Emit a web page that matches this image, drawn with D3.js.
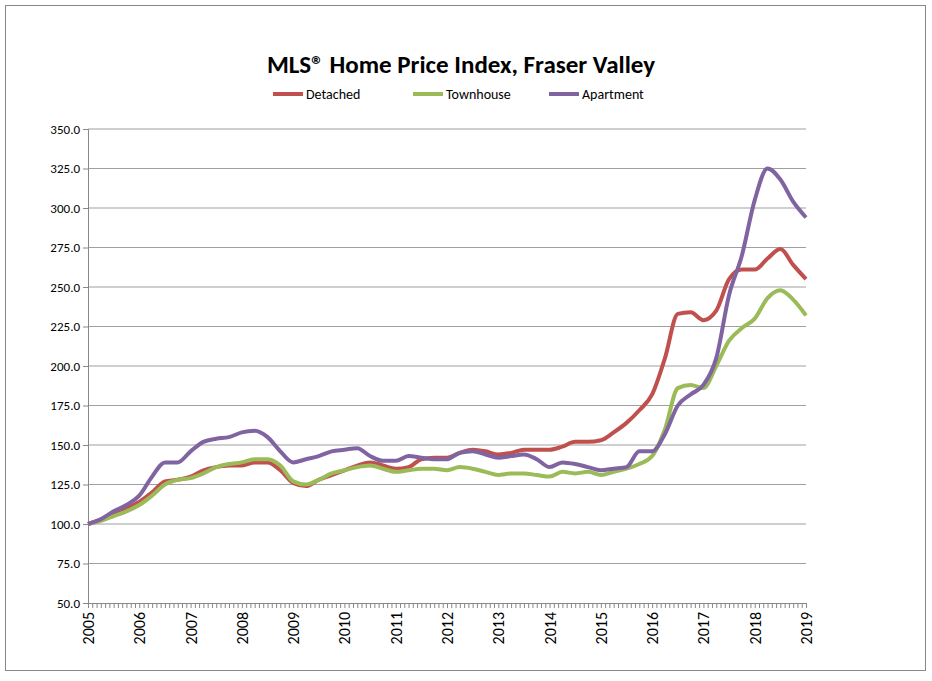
<!DOCTYPE html><html><head><meta charset="utf-8"><script src="https://cdn.jsdelivr.net/npm/d3@7"></script>
<style>body{margin:0;background:#fff;font-family:Calibri,Carlito,"Liberation Sans",sans-serif}</style></head><body><svg id="c" width="932" height="681"></svg>
<script>
const years=[2005,2006,2007,2008,2009,2010,2011,2012,2013,2014,2015,2016,2017,2018,2019];
const yTicks=[50,75,100,125,150,175,200,225,250,275,300,325,350];
const detached=[100,103,107,110,114,120,127,128,130,134,136,137,137,139,139,134,126,124,128,131,134,137,139,137,135,136,141,142,142,145,147,146,144,145,147,147,147,149,152,152,153,158,164,172,182,205,233,234,229,235,255,261,261,268,274,264,255];
const townhouse=[100,102,105,108,112,118,125,128,129,132,136,138,139,141,141,137,127,125,128,132,134,136,137,135,133,134,135,135,134,136,135,133,131,132,132,131,130,133,132,133,131,133,135,138,143,160,186,188,186,200,216,224,230,243,248,242,232];
const apartment=[100,103,108,112,118,130,139,139,146,152,154,155,158,159,155,146,139,141,143,146,147,148,143,140,140,143,142,141,141,145,146,144,142,143,144,141,136,139,138,136,134,135,136,146,146,157,175,182,188,205,245,270,305,325,318,304,294];
const series=[{name:"Detached",color:"#c0504d",v:detached},{name:"Townhouse",color:"#9bbb59",v:townhouse},{name:"Apartment",color:"#8064a2",v:apartment}];
const svg=d3.select("#c");
svg.append("rect").attr("x",5.5).attr("y",5.5).attr("width",920).attr("height",665).attr("fill","none").attr("stroke","#888");
const x=d3.scaleLinear().domain([2005,2019]).range([88,806]);
const y=d3.scaleLinear().domain([50,350]).range([603,129]);
svg.append("g").selectAll("line").data(yTicks.slice(1)).join("line").attr("x1",88).attr("x2",806).attr("y1",d=>y(d)).attr("y2",d=>y(d)).attr("stroke","#a0a0a0").attr("stroke-width",1.2);
const ya=svg.append("g").attr("transform","translate(88,0)").call(d3.axisLeft(y).tickValues(yTicks).tickFormat(d3.format(".1f")).tickSize(5));
ya.selectAll("text").attr("font-size",13).attr("fill","#000").attr("font-family","Carlito,'Liberation Sans',sans-serif");
ya.select(".domain").attr("stroke","#888");ya.selectAll(".tick line").attr("stroke","#888");
const months=d3.range(0,14*12+1).map(i=>2005+i/12);
const xa=svg.append("g").attr("transform","translate(0,603)").call(d3.axisBottom(x).tickValues(months).tickSize(5).tickFormat(""));
xa.select(".domain").attr("stroke","#888");xa.selectAll(".tick line").attr("stroke","#888");
svg.append("g").selectAll("text").data(years).join("text").attr("transform",d=>`translate(${x(d)+6},612) rotate(-90)`).attr("text-anchor","end").attr("font-size",16).attr("font-family","Carlito,'Liberation Sans',sans-serif").text(d=>d);
const line=d3.line().x((d,i)=>x(2005+i/4)).y(d=>y(d)).curve(d3.curveMonotoneX);
series.forEach(s=>svg.append("path").attr("d",line(s.v)).attr("fill","none").attr("stroke",s.color).attr("stroke-width",4).attr("stroke-linejoin","round"));
svg.append("text").attr("x",461).attr("y",73).attr("text-anchor","middle").attr("font-size",25).attr("font-weight","bold").attr("font-family","Carlito,'Liberation Sans',sans-serif").text("MLS® Home Price Index, Fraser Valley");
const lx=[273,413,549];
series.forEach((s,i)=>{svg.append("line").attr("x1",lx[i]).attr("x2",lx[i]+30).attr("y1",94).attr("y2",94).attr("stroke",s.color).attr("stroke-width",4);
svg.append("text").attr("x",lx[i]+33).attr("y",99).attr("font-size",14).attr("font-family","Carlito,'Liberation Sans',sans-serif").text(s.name);});
</script></body></html>
